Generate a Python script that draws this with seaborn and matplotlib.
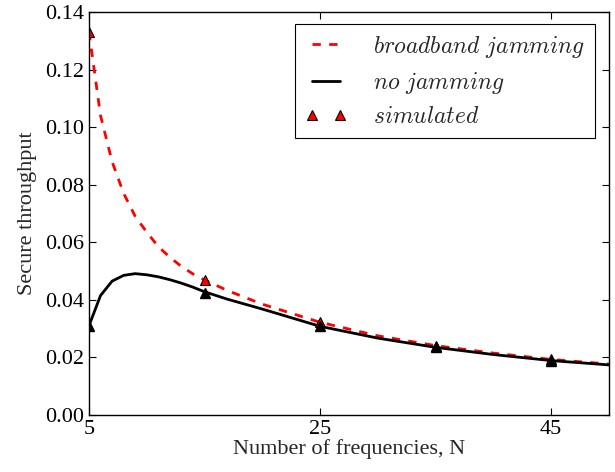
import matplotlib
matplotlib.use('Agg')
import matplotlib.pyplot as plt
from matplotlib.lines import Line2D
import pandas as pd
import seaborn as sns

# values
n_broadband = [5, 6, 7, 8, 9, 10, 11, 12, 13, 14, 15, 17, 20, 25, 30, 35, 40, 45, 50]
broadband = [0.133, 0.104, 0.088, 0.077, 0.069, 0.0635, 0.0585, 0.0548, 0.0516, 0.049,
             0.0469, 0.0432, 0.0385, 0.0322, 0.0275, 0.0241, 0.0215, 0.0193, 0.0177]

n_nojam = [5, 6, 7, 8, 9, 10, 11, 12, 13, 14, 15, 17, 20, 25, 30, 35, 40, 45, 50]
nojam = [0.031, 0.0415, 0.0465, 0.0485, 0.0491, 0.0487, 0.048, 0.047, 0.0458, 0.0444,
         0.0428, 0.0402, 0.0368, 0.0308, 0.0267, 0.0235, 0.021, 0.0189, 0.0174]

n_sim = [5, 15, 25, 35, 45]
sim_broadband = [0.133, 0.0469, 0.0322, 0.0241, 0.0193]
sim_nojam = [0.031, 0.0424, 0.0308, 0.0235, 0.0189]

sns.set_style('ticks')
plt.rcParams['font.family'] = ['Liberation Serif', 'DejaVu Serif']
plt.rcParams['mathtext.fontset'] = 'cm'
plt.rcParams['xtick.direction'] = 'in'
plt.rcParams['ytick.direction'] = 'in'

fig = plt.figure(figsize=(6.15, 4.72), dpi=100)
ax = fig.add_axes([0.1447, 0.1208, 0.8453, 0.8538])

df_bb = pd.DataFrame({'N': n_broadband, 'T': broadband})
df_nj = pd.DataFrame({'N': n_nojam, 'T': nojam})

sns.lineplot(data=df_bb, x='N', y='T', ax=ax, color='red', linestyle=(0, (3, 3)), linewidth=2)
sns.lineplot(data=df_nj, x='N', y='T', ax=ax, color='black', linewidth=2)

ax.plot(n_sim, sim_broadband, linestyle='none', marker='^', markersize=7,
        markerfacecolor='red', markeredgecolor='black', markeredgewidth=0.8)
ax.plot(n_sim, sim_nojam, linestyle='none', marker='^', markersize=7,
        markerfacecolor='black', markeredgecolor='black')

ax.set_xlim(5, 50)
ax.set_ylim(0, 0.14)
ax.set_xticks([5, 25, 45])
ax.set_yticks([0.00, 0.02, 0.04, 0.06, 0.08, 0.10, 0.12, 0.14])
ax.set_yticklabels(['%.2f' % v for v in ax.get_yticks()])
ax.tick_params(top=True, right=True, length=5, width=0.8, labelsize=16, colors='black')
for s in ax.spines.values():
    s.set_color('black')
    s.set_linewidth(1.0)

ax.set_xlabel('Number of frequencies, N', fontsize=16, labelpad=0)
ax.set_ylabel('Secure throughput', fontsize=16, labelpad=6)

handles = [
    Line2D([], [], color='red', linestyle=(0, (3, 3)), linewidth=2),
    Line2D([], [], color='black', linewidth=2),
    Line2D([], [], linestyle='none', marker='^', markersize=7,
           markerfacecolor='red', markeredgecolor='black', markeredgewidth=0.8),
]
labels = [r'$broadband\ jamming$', r'$no\ jamming$', r'$simulated$']
leg = ax.legend(handles, labels, loc='upper right', bbox_to_anchor=(0.973, 0.97),
                borderaxespad=0, fontsize=17, numpoints=2, handlelength=1.8,
                handletextpad=1.1, labelspacing=0.45, fancybox=False, framealpha=1,
                borderpad=0.4)
leg.get_frame().set_edgecolor('black')
leg.get_frame().set_linewidth(0.8)

fig.savefig('out.png', dpi=100)
